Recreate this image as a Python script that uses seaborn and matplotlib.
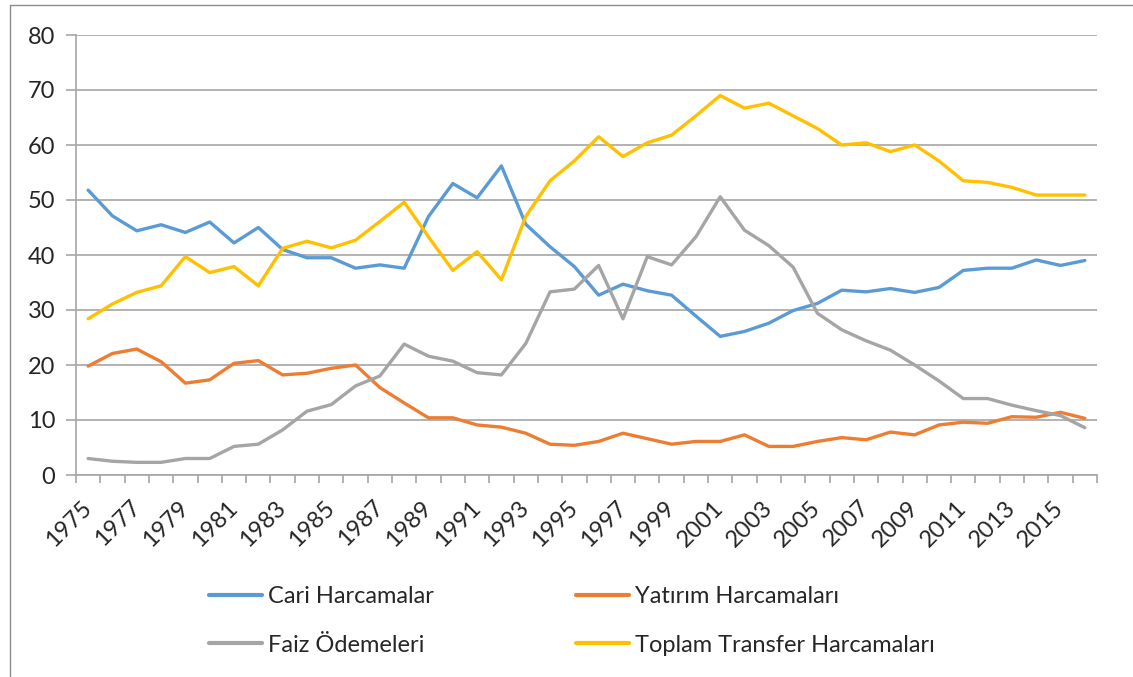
import numpy as np
import pandas as pd
import matplotlib
matplotlib.use("Agg")
import matplotlib.pyplot as plt
from matplotlib.lines import Line2D
import seaborn as sns

years = list(range(1975, 2017))

cari = [51.8, 47.1, 44.4, 45.5, 44.1, 46.0, 42.2, 45.0, 41.0, 39.5,
        39.5, 37.6, 38.2, 37.6, 47.0, 53.0, 50.4, 56.2, 45.6, 41.5,
        37.9, 32.7, 34.7, 33.5, 32.7, 28.9, 25.2, 26.1, 27.6, 29.9,
        31.2, 33.6, 33.3, 33.9, 33.2, 34.1, 37.2, 37.6, 37.6, 39.1,
        38.1, 39.0]

yatirim = [19.8, 22.1, 22.9, 20.6, 16.7, 17.3, 20.3, 20.8, 18.2, 18.5,
           19.4, 20.0, 15.9, 13.1, 10.4, 10.4, 9.1, 8.7, 7.6, 5.6,
           5.4, 6.1, 7.6, 6.6, 5.6, 6.1, 6.1, 7.3, 5.2, 5.2,
           6.1, 6.8, 6.4, 7.8, 7.3, 9.1, 9.6, 9.4, 10.6, 10.5,
           11.4, 10.3]

faiz = [3.0, 2.5, 2.3, 2.3, 3.0, 3.0, 5.2, 5.6, 8.2, 11.6,
        12.8, 16.2, 18.0, 23.8, 21.6, 20.7, 18.6, 18.2, 23.9, 33.3,
        33.8, 38.1, 28.4, 39.7, 38.2, 43.3, 50.6, 44.5, 41.7, 37.8,
        29.4, 26.4, 24.4, 22.7, 20.0, 17.1, 13.9, 13.9, 12.7, 11.7,
        10.8, 8.6]

transfer = [28.4, 31.1, 33.2, 34.4, 39.7, 36.8, 37.9, 34.4, 41.2, 42.5,
            41.3, 42.7, 46.1, 49.6, 43.3, 37.2, 40.6, 35.5, 47.0, 53.5,
            57.1, 61.5, 57.9, 60.4, 61.8, 65.3, 69.0, 66.7, 67.6, 65.3,
            63.0, 60.0, 60.4, 58.8, 60.0, 57.1, 53.5, 53.2, 52.3, 50.9,
            50.9, 50.9]

series_names = ["Cari Harcamalar", "Yatırım Harcamaları",
                "Faiz Ödemeleri", "Toplam Transfer Harcamaları"]
colors = ["#5B9BD5", "#ED7D31", "#A5A5A5", "#FFC000"]

frames = []
for name, vals in zip(series_names, [cari, yatirim, faiz, transfer]):
    frames.append(pd.DataFrame({"Yıl": years, "Değer": vals, "Seri": name}))
df = pd.concat(frames, ignore_index=True)

sns.set_theme(style="white")
plt.rcParams["font.family"] = ["Lato", "DejaVu Sans"]

fig = plt.figure(figsize=(11.33, 6.77), dpi=100)
ax = fig.add_axes([76/1133, 1-475/677, (1097-76)/1133, (475-35)/677])

sns.lineplot(data=df, x="Yıl", y="Değer", hue="Seri", hue_order=series_names,
             palette=colors, linewidth=2.4, ax=ax, legend=True)

grid_c = "#A6A6A6"
text_c = "#262626"
ax.set_xlim(years[0]-0.5, years[-1]+0.5)
ax.set_ylim(0, 80)
ax.set_yticks(np.arange(0, 81, 10))
ax.yaxis.grid(True, color=grid_c, linewidth=1.2)
ax.set_axisbelow(True)

label_years = years[::2]
ax.set_xticks(label_years)
ax.set_xticklabels([str(y) for y in label_years], rotation=45, ha="right",
                   rotation_mode="anchor", va="center")
ax.set_xticks(np.arange(years[0]-0.5, years[-1]+1.0, 1.0), minor=True)
ax.tick_params(axis="x", which="major", length=0, pad=21, labelsize=17,
               labelcolor=text_c)
ax.tick_params(axis="x", which="minor", length=6, width=1.2, color=grid_c,
               direction="out", bottom=True)
ax.tick_params(axis="y", length=7, width=1.2, color=grid_c, direction="out",
               left=True, labelsize=17, labelcolor=text_c, pad=8)

for s in ["top", "right"]:
    ax.spines[s].set_visible(False)
for s in ["left", "bottom"]:
    ax.spines[s].set_color(grid_c)
    ax.spines[s].set_linewidth(1.2)

ax.set_xlabel("")
ax.set_ylabel("")

handles, labels = ax.get_legend_handles_labels()
ax.legend_.remove()
for h in handles:
    h.set_linewidth(3)
order = [0, 2, 1, 3]
fig.legend([handles[i] for i in order], [labels[i] for i in order],
           loc="center", bbox_to_anchor=(572/1133, 1-621/677),
           ncol=2, frameon=False, fontsize=17, handlelength=2.25,
           handletextpad=0.25, columnspacing=6.0, labelspacing=1.15,
           labelcolor=text_c)

border_c = "#8C8C8C"
fig.add_artist(Line2D([10/1133, 10/1133], [0, 1-5/677], color=border_c,
                      linewidth=1.0, transform=fig.transFigure))
fig.add_artist(Line2D([10/1133, 1], [1-5/677, 1-5/677], color=border_c,
                      linewidth=1.0, transform=fig.transFigure))

fig.savefig("out.png", dpi=100)
